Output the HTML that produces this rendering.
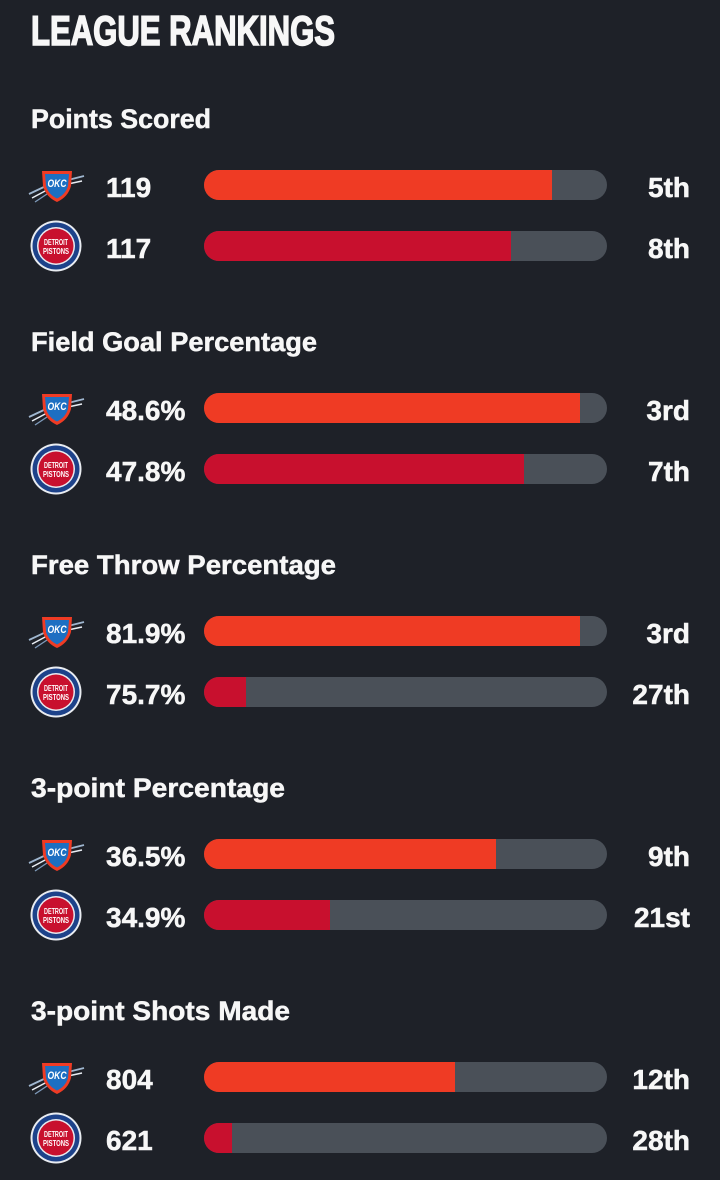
<!DOCTYPE html>
<html>
<head>
<meta charset="utf-8">
<style>
html,body{margin:0;padding:0;background:#1e2128;}
svg{display:block;}
text{font-family:"Liberation Sans",sans-serif;font-weight:bold;fill:#f7f7f7;stroke:#f7f7f7;stroke-width:0.5px;}
text.ttl{stroke-width:1.6px;}
text.nl{stroke:none;}
</style>
</head>
<body>
<svg width="720" height="1180" viewBox="0 0 720 1180" xmlns="http://www.w3.org/2000/svg">
<defs>
  <clipPath id="bar"><rect x="204" y="0" width="403" height="30" rx="15" ry="15"/></clipPath>
  <g id="okc">
    <path d="M-28,10 L-11,2" stroke="#9fb6cf" stroke-width="1.8"/>
    <path d="M-25,14 L-10,6" stroke="#e9eef4" stroke-width="1.5"/>
    <path d="M-22,18 L-10,10" stroke="#7f9bbb" stroke-width="1.3"/>
    <path d="M11,-4 L27,-8" stroke="#9fb6cf" stroke-width="1.8"/>
    <path d="M11,0 L25,-3" stroke="#e9eef4" stroke-width="1.5"/>
    <path d="M-15,-13 L15,-13 L14,2 Q11,13 0,18 Q-11,13 -14,2 Z" fill="#ef3b24"/>
    <path d="M-12,-10 L12,-10 L11,2 Q8.5,10.5 0,14.5 Q-8.5,10.5 -11,2 Z" fill="#1d6fc2"/>
    <text class="nl" x="0" y="3" text-anchor="middle" style="font-size:11px;font-style:italic;fill:#fff" textLength="19" lengthAdjust="spacingAndGlyphs">OKC</text>
  </g>
  <g id="det">
    <circle r="25.5" fill="#e9ecf1"/>
    <circle r="23.5" fill="#1d428a"/>
    <circle r="19" fill="#e9ecf1"/>
    <circle r="17.5" fill="#c8102e"/>
    <text class="nl" x="0" y="-1" text-anchor="middle" style="font-size:8px;fill:#fff" textLength="24" lengthAdjust="spacingAndGlyphs">DETROIT</text>
    <text class="nl" x="0" y="8" text-anchor="middle" style="font-size:8px;fill:#fff" textLength="26" lengthAdjust="spacingAndGlyphs">PISTONS</text>
  </g>
</defs>

<text class="ttl" x="31" y="45" style="font-size:42px" textLength="304" lengthAdjust="spacingAndGlyphs">LEAGUE RANKINGS</text>

<!-- Section 1 -->
<text x="31" y="128" style="font-size:27px" textLength="180" lengthAdjust="spacingAndGlyphs">Points Scored</text>
<use href="#okc" x="57" y="184"/>
<text x="106" y="197" style="font-size:28px">119</text>
<g transform="translate(0,170)" clip-path="url(#bar)">
  <rect x="204" y="0" width="403" height="30" fill="#4a5058"/>
  <rect x="204" y="0" width="348" height="30" fill="#ef3b24"/>
</g>
<text x="690" y="197" text-anchor="end" style="font-size:28px">5th</text>
<use href="#det" x="56" y="246"/>
<text x="106" y="258" style="font-size:28px">117</text>
<g transform="translate(0,231)" clip-path="url(#bar)">
  <rect x="204" y="0" width="403" height="30" fill="#4a5058"/>
  <rect x="204" y="0" width="307" height="30" fill="#c8102e"/>
</g>
<text x="690" y="258" text-anchor="end" style="font-size:28px">8th</text>

<!-- Section 2 -->
<text x="31" y="351" style="font-size:27px" textLength="286" lengthAdjust="spacingAndGlyphs">Field Goal Percentage</text>
<use href="#okc" x="57" y="407"/>
<text x="106" y="420" style="font-size:28px">48.6%</text>
<g transform="translate(0,393)" clip-path="url(#bar)">
  <rect x="204" y="0" width="403" height="30" fill="#4a5058"/>
  <rect x="204" y="0" width="376" height="30" fill="#ef3b24"/>
</g>
<text x="690" y="420" text-anchor="end" style="font-size:28px">3rd</text>
<use href="#det" x="56" y="469"/>
<text x="106" y="481" style="font-size:28px">47.8%</text>
<g transform="translate(0,454)" clip-path="url(#bar)">
  <rect x="204" y="0" width="403" height="30" fill="#4a5058"/>
  <rect x="204" y="0" width="320" height="30" fill="#c8102e"/>
</g>
<text x="690" y="481" text-anchor="end" style="font-size:28px">7th</text>

<!-- Section 3 -->
<text x="31" y="574" style="font-size:27px" textLength="305" lengthAdjust="spacingAndGlyphs">Free Throw Percentage</text>
<use href="#okc" x="57" y="630"/>
<text x="106" y="643" style="font-size:28px">81.9%</text>
<g transform="translate(0,616)" clip-path="url(#bar)">
  <rect x="204" y="0" width="403" height="30" fill="#4a5058"/>
  <rect x="204" y="0" width="376" height="30" fill="#ef3b24"/>
</g>
<text x="690" y="643" text-anchor="end" style="font-size:28px">3rd</text>
<use href="#det" x="56" y="692"/>
<text x="106" y="704" style="font-size:28px">75.7%</text>
<g transform="translate(0,677)" clip-path="url(#bar)">
  <rect x="204" y="0" width="403" height="30" fill="#4a5058"/>
  <rect x="204" y="0" width="42" height="30" fill="#c8102e"/>
</g>
<text x="690" y="704" text-anchor="end" style="font-size:28px">27th</text>

<!-- Section 4 -->
<text x="31" y="797" style="font-size:27px" textLength="254" lengthAdjust="spacingAndGlyphs">3-point Percentage</text>
<use href="#okc" x="57" y="853"/>
<text x="106" y="866" style="font-size:28px">36.5%</text>
<g transform="translate(0,839)" clip-path="url(#bar)">
  <rect x="204" y="0" width="403" height="30" fill="#4a5058"/>
  <rect x="204" y="0" width="292" height="30" fill="#ef3b24"/>
</g>
<text x="690" y="866" text-anchor="end" style="font-size:28px">9th</text>
<use href="#det" x="56" y="915"/>
<text x="106" y="927" style="font-size:28px">34.9%</text>
<g transform="translate(0,900)" clip-path="url(#bar)">
  <rect x="204" y="0" width="403" height="30" fill="#4a5058"/>
  <rect x="204" y="0" width="126" height="30" fill="#c8102e"/>
</g>
<text x="690" y="927" text-anchor="end" style="font-size:28px">21st</text>

<!-- Section 5 -->
<text x="31" y="1020" style="font-size:27px" textLength="259" lengthAdjust="spacingAndGlyphs">3-point Shots Made</text>
<use href="#okc" x="57" y="1076"/>
<text x="106" y="1089" style="font-size:28px">804</text>
<g transform="translate(0,1062)" clip-path="url(#bar)">
  <rect x="204" y="0" width="403" height="30" fill="#4a5058"/>
  <rect x="204" y="0" width="251" height="30" fill="#ef3b24"/>
</g>
<text x="690" y="1089" text-anchor="end" style="font-size:28px">12th</text>
<use href="#det" x="56" y="1138"/>
<text x="106" y="1150" style="font-size:28px">621</text>
<g transform="translate(0,1123)" clip-path="url(#bar)">
  <rect x="204" y="0" width="403" height="30" fill="#4a5058"/>
  <rect x="204" y="0" width="28" height="30" fill="#c8102e"/>
</g>
<text x="690" y="1150" text-anchor="end" style="font-size:28px">28th</text>
</svg>
</body>
</html>
